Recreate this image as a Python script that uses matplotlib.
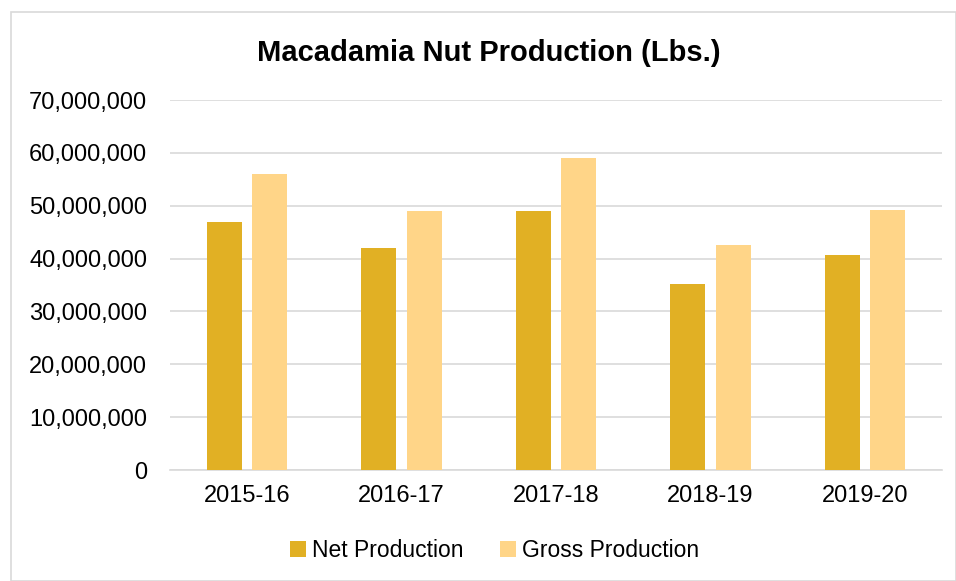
import matplotlib.pyplot as plt
import matplotlib.ticker as mticker
import numpy as np

plt.rcParams['font.family'] = ['Liberation Sans', 'DejaVu Sans']

seasons = ["2015-16", "2016-17", "2017-18", "2018-19", "2019-20"]
net_prod = [47000000, 42000000, 49000000, 35200000, 40700000]
gross_prod = [56000000, 49000000, 59100000, 42600000, 49200000]

net_color = "#E1B024"
gross_color = "#FFD588"

fig = plt.figure(figsize=(9.56, 5.81), dpi=100)
ax = fig.add_axes([0.1778, 0.191, 0.8075, 0.6368])

x = np.arange(len(seasons))
w = 0.227
off = 0.147
ax.bar(x - off, net_prod, width=w, color=net_color, label="Net Production", zorder=3)
ax.bar(x + off, gross_prod, width=w, color=gross_color, label="Gross Production", zorder=3)

ax.set_xlim(-0.5, len(seasons) - 0.5)
ax.set_ylim(0, 70000000)
ax.set_yticks(np.arange(0, 70000001, 10000000))
ax.yaxis.set_major_formatter(mticker.FuncFormatter(lambda v, p: f"{int(v):,}"))
ax.set_xticks(x)
ax.set_xticklabels(seasons)
ax.tick_params(axis='both', length=0, labelsize=17, colors="#000000")
ax.tick_params(axis='y', pad=16.5)
ax.tick_params(axis='x', pad=11)
ax.grid(axis='y', color="#D9D9D9", linewidth=1.2, zorder=0)
for s in ["top", "right", "left"]:
    ax.spines[s].set_visible(False)
ax.spines["bottom"].set_color("#D9D9D9")
ax.spines["bottom"].set_linewidth(1.2)

fig.text(0.511, 0.908, "Macadamia Nut Production (Lbs.)", ha="center", va="center",
         fontsize=21, fontweight="bold")

fig.legend(loc="center", bbox_to_anchor=(0.517, 0.052), ncol=2, frameon=False,
           fontsize=16.5, handlelength=0.7, handleheight=0.7, handletextpad=0.25,
           columnspacing=1.6)

border = plt.Rectangle((11 / 956, 0.0), 1 - 11 / 956, 1 - 12 / 581, transform=fig.transFigure,
                       fill=False, edgecolor="#D9D9D9", linewidth=1.2)
fig.patches.append(border)

fig.savefig("out.png", dpi=100)
